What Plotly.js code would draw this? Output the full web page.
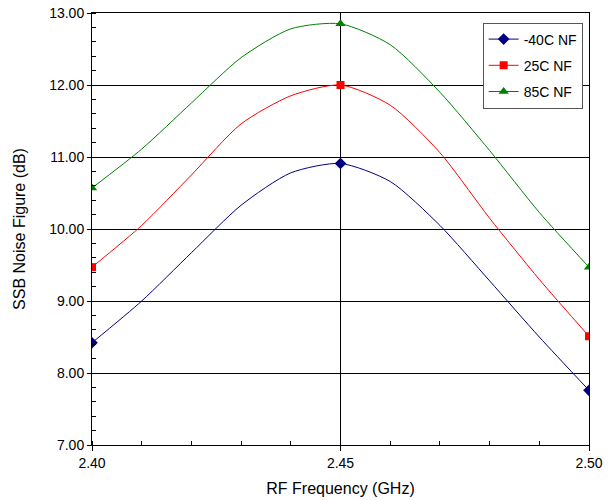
<!DOCTYPE html>
<html>
<head>
<meta charset="utf-8">
<script src="https://cdn.plot.ly/plotly-3.0.1.min.js"></script>
<style>html,body{margin:0;padding:0;background:#fff;}#chart{width:613px;height:500px;}</style>
</head>
<body>
<div id="chart"></div>
<script>
// Data
var freqGHz = [2.40, 2.41, 2.42, 2.43, 2.44, 2.45, 2.46, 2.47, 2.48, 2.49, 2.50];
var nfMinus40C = [8.42, 9.00, 9.67, 10.33, 10.78, 10.91, 10.66, 10.05, 9.28, 8.50, 7.76];
var nf25C      = [9.47, 10.05, 10.75, 11.46, 11.85, 12.00, 11.72, 11.06, 10.15, 9.30, 8.51];
var nf85C      = [10.57, 11.11, 11.75, 12.38, 12.78, 12.85, 12.56, 11.90, 11.09, 10.23, 9.47];
var seriesNames = ['-40C NF', '25C NF', '85C NF'];
var markerIdx = [0, 5, 10];
var xTickVals = [2.40, 2.45, 2.50];
var xTickText = ['2.40', '2.45', '2.50'];
var yTickVals = [7, 8, 9, 10, 11, 12, 13];
var yTickText = ['7.00', '8.00', '9.00', '10.00', '11.00', '12.00', '13.00'];

var styles = [
  {color: '#000080', symbol: 'diamond', size: 9},
  {color: '#FF0000', symbol: 'square', size: 8},
  {color: '#008000', symbol: 'triangle-up', size: 9}
];
var seriesData = [nfMinus40C, nf25C, nf85C];

function sparse(arr) {
  // values at marker positions, nulls elsewhere (no connecting line drawn)
  var out = [];
  markerIdx.forEach(function (i, k) {
    if (k > 0) out.push(null);
    out.push(arr[i]);
  });
  return out;
}

var traces = [];
seriesData.forEach(function (ys, i) {
  traces.push({
    x: freqGHz, y: ys, type: 'scatter', mode: 'lines',
    line: {color: styles[i].color, width: 1, shape: 'spline', smoothing: 0.7},
    showlegend: false, hoverinfo: 'skip', legendgroup: 'g' + i
  });
});
seriesData.forEach(function (ys, i) {
  traces.push({
    x: sparse(freqGHz), y: sparse(ys), type: 'scatter', mode: 'lines+markers',
    name: seriesNames[i], legendgroup: 'g' + i, connectgaps: false,
    line: {color: styles[i].color, width: 1},
    marker: {color: styles[i].color, symbol: styles[i].symbol, size: styles[i].size, line: {width: 0}}
  });
});

var font = 'Liberation Sans, Arial, sans-serif';
var layout = {
  width: 613, height: 500,
  margin: {l: 92, r: 24, t: 13, b: 55},
  paper_bgcolor: '#ffffff', plot_bgcolor: '#ffffff',
  font: {family: font, size: 13, color: '#000'},
  showlegend: true,
  legend: {
    x: 0.786, y: 0.978, xanchor: 'left', yanchor: 'top',
    bgcolor: '#ffffff', bordercolor: '#555555', borderwidth: 1,
    font: {family: font, size: 14, color: '#000'},
    traceorder: 'grouped', tracegroupgap: 5
  },
  xaxis: {
    range: [2.40, 2.50],
    tickmode: 'array', tickvals: xTickVals, ticktext: xTickText,
    ticks: 'outside', ticklen: 5, tickcolor: '#000', tickwidth: 1,
    showgrid: true, gridcolor: '#000', gridwidth: 1,
    showline: true, linecolor: '#000', linewidth: 1, mirror: true,
    zeroline: false,
    minor: {dtick: 0.01, tick0: 2.40, ticks: 'inside', ticklen: 4, tickcolor: '#000', showgrid: false},
    tickfont: {family: font, size: 14, color: '#000'},
    title: {text: 'RF Frequency (GHz)', font: {family: font, size: 16, color: '#000'}, standoff: 13}
  },
  yaxis: {
    range: [7, 13],
    tickmode: 'array', tickvals: yTickVals, ticktext: yTickText,
    ticks: 'outside', ticklen: 4, tickcolor: '#000', tickwidth: 1,
    showgrid: true, gridcolor: '#000', gridwidth: 1,
    showline: true, linecolor: '#000', linewidth: 1, mirror: true,
    zeroline: false,
    minor: {dtick: 0.2, tick0: 7, ticks: 'inside', ticklen: 4, tickcolor: '#000', showgrid: false},
    tickfont: {family: font, size: 14, color: '#000'},
    title: {text: 'SSB Noise Figure (dB)', font: {family: font, size: 16, color: '#000'}, standoff: 19}
  }
};

Plotly.newPlot('chart', traces, layout, {staticPlot: true, displayModeBar: false});
</script>
</body>
</html>
